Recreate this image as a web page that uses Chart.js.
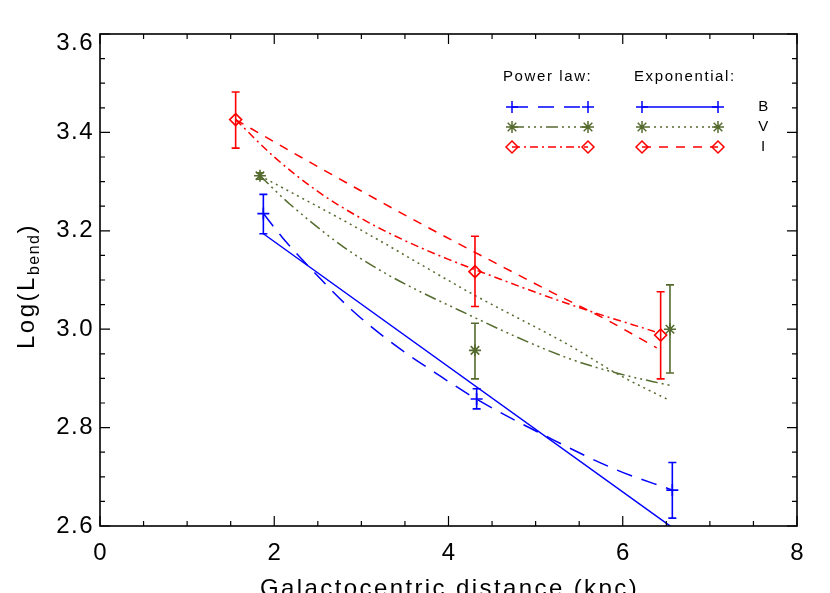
<!DOCTYPE html>
<html>
<head>
<meta charset="utf-8">
<script src="https://cdn.jsdelivr.net/npm/chart.js@4/dist/chart.umd.min.js"></script>
<style>
  html, body { margin: 0; padding: 0; background: #fff; overflow: hidden; }
  #wrap { width: 830px; height: 593px; }
</style>
</head>
<body>
<div id="wrap"><canvas id="bendChart" width="830" height="593"></canvas></div>
<script>
// Measured points (x = galactocentric distance in kpc, y = log L_bend)
const bandX = { B: [1.875, 4.323, 6.569], V: [1.836, 4.304, 6.542], I: [1.557, 4.304, 6.435] };
const bandY = { B: [3.235, 2.858, 2.673], V: [3.312, 2.957, 3.000], I: [3.426, 3.117, 2.988] };
const errLo = { B: [3.194, 2.838, 2.616], V: [3.305, 2.899, 2.911], I: [3.368, 3.046, 2.899] };
const errHi = { B: [3.274, 2.879, 2.729], V: [3.318, 3.012, 3.090], I: [3.482, 3.189, 3.076] };

// Fitted curves
const bPowX = [1.875, 2.09, 2.43, 2.89, 3.39, 3.92, 4.32, 5.17, 5.93, 6.57];
const bPowY = [3.235, 3.187, 3.121, 3.039, 2.967, 2.903, 2.858, 2.778, 2.714, 2.673];
const bExpX = [1.875, 6.56];
const bExpY = [3.194, 2.598];
const vPowX = [1.836, 2.18, 2.98, 4.32, 5.39, 5.97, 6.54];
const vPowY = [3.312, 3.254, 3.145, 3.022, 2.940, 2.909, 2.886];
const vExpX = [1.836, 2.98, 4.29, 5.39, 5.97, 6.54];
const vExpY = [3.312, 3.203, 3.070, 2.967, 2.906, 2.855];
const iPowX = [1.557, 2.0, 2.5, 3.0, 3.5, 4.0, 4.5, 5.0, 5.6, 6.37];
const iPowY = [3.426, 3.350, 3.280, 3.225, 3.180, 3.142, 3.108, 3.075, 3.038, 2.995];
const iExpX = [1.557, 2.085, 2.927, 3.635, 4.285, 5.165, 5.816, 6.39];
const iExpY = [3.426, 3.372, 3.288, 3.219, 3.158, 3.077, 3.019, 2.962];

const xTicks = [0, 2, 4, 6, 8];
const yTicks = [2.6, 2.8, 3.0, 3.2, 3.4, 3.6];
const bands = ["B", "V", "I"];

const colors = { B: "#0000ff", V: "#556b2f", I: "#ff0000" };
const marks = { B: "cross", V: "star", I: "rectRot" };
const powDash = { B: [16, 10], V: [12, 4, 2, 4, 2, 4, 2, 4], I: [8, 4, 2, 4] };
const expDash = { B: [], V: [2, 4], I: [9, 8] };

const FONT = "'Liberation Sans', Arial, sans-serif";

function zip(xs, ys) {
  return xs.map((x, i) => ({ x: x, y: ys[i] }));
}

const fits = {
  B: { pow: zip(bPowX, bPowY), exp: zip(bExpX, bExpY) },
  V: { pow: zip(vPowX, vPowY), exp: zip(vExpX, vExpY) },
  I: { pow: zip(iPowX, iPowY), exp: zip(iExpX, iExpY) }
};

const datasets = [];
bands.forEach(b => {
  ["pow", "exp"].forEach(kind => {
    datasets.push({
      label: b + " " + kind,
      data: fits[b][kind],
      showLine: true,
      borderColor: colors[b],
      borderWidth: 1.5,
      borderDash: kind === "pow" ? powDash[b] : expDash[b],
      pointRadius: 0,
      cubicInterpolationMode: "monotone",
      fill: false
    });
  });
});
bands.forEach(b => {
  datasets.push({
    label: b,
    data: zip(bandX[b], bandY[b]),
    showLine: false,
    pointStyle: marks[b],
    pointRadius: 6,
    pointBorderWidth: 1.6,
    borderColor: colors[b],
    backgroundColor: "rgba(0,0,0,0)"
  });
});

// small marker drawer for the legend
function drawMark(ctx, style, x, y, r) {
  ctx.beginPath();
  if (style === "cross" || style === "star") {
    ctx.moveTo(x - r, y); ctx.lineTo(x + r, y);
    ctx.moveTo(x, y - r); ctx.lineTo(x, y + r);
  }
  if (style === "star") {
    const d = r * 0.72;
    ctx.moveTo(x - d, y - d); ctx.lineTo(x + d, y + d);
    ctx.moveTo(x - d, y + d); ctx.lineTo(x + d, y - d);
  }
  if (style === "rectRot") {
    ctx.moveTo(x - r, y); ctx.lineTo(x, y - r);
    ctx.lineTo(x + r, y); ctx.lineTo(x, y + r);
    ctx.closePath();
  }
  ctx.stroke();
}

const idlFrame = {
  id: "idlFrame",
  afterDatasetsDraw(chart) {
    const { ctx, scales: { x, y } } = chart;
    ctx.save();
    ctx.lineWidth = 1.6;
    bands.forEach(b => {
      ctx.strokeStyle = colors[b];
      bandX[b].forEach((xv, i) => {
        const px = x.getPixelForValue(xv);
        const top = y.getPixelForValue(errHi[b][i]);
        const bot = y.getPixelForValue(errLo[b][i]);
        ctx.beginPath();
        ctx.moveTo(px, top); ctx.lineTo(px, bot);
        ctx.moveTo(px - 4, top); ctx.lineTo(px + 4, top);
        ctx.moveTo(px - 4, bot); ctx.lineTo(px + 4, bot);
        ctx.stroke();
      });
    });
    ctx.restore();
  },
  afterDraw(chart) {
    const { ctx, chartArea: a, scales: { x, y } } = chart;
    ctx.save();
    ctx.strokeStyle = "#000";
    ctx.lineWidth = 1.6;
    ctx.strokeRect(a.left, a.top, a.right - a.left, a.bottom - a.top);

    // inward ticks on all four sides
    ctx.lineWidth = 1.2;
    ctx.beginPath();
    for (let v = 0; v <= 8.001; v += 0.5) {
      const px = x.getPixelForValue(v);
      const len = Math.abs(v % 2) < 0.01 ? 10 : 5;
      ctx.moveTo(px, a.bottom); ctx.lineTo(px, a.bottom - len);
      ctx.moveTo(px, a.top); ctx.lineTo(px, a.top + len);
    }
    for (let k = 0; k <= 20; k++) {
      const v = 2.6 + k * 0.05;
      const py = y.getPixelForValue(v);
      const len = k % 4 === 0 ? 10 : 5;
      ctx.moveTo(a.left, py); ctx.lineTo(a.left + len, py);
      ctx.moveTo(a.right, py); ctx.lineTo(a.right - len, py);
    }
    ctx.stroke();

    // y tick labels (the top one sits just inside the frame, as in the original)
    ctx.fillStyle = "#000";
    ctx.font = "24px " + FONT;
    ctx.letterSpacing = "1.5px";
    ctx.textAlign = "right";
    ctx.textBaseline = "middle";
    yTicks.forEach(v => {
      const py = Math.max(y.getPixelForValue(v), a.top + 9);
      ctx.fillText(v.toFixed(1), 94, py);
    });

    // axis titles
    ctx.font = "24px " + FONT;
    ctx.textAlign = "center";
    ctx.textBaseline = "alphabetic";
    ctx.letterSpacing = "2.4px";
    ctx.fillText("Galactocentric distance (kpc)", (a.left + a.right) / 2 + 1, 596);

    ctx.save();
    ctx.translate(26, 286);
    ctx.rotate(-Math.PI / 2);
    ctx.textAlign = "left";
    const bigFont = "24px " + FONT;
    const subFont = "16px " + FONT;
    ctx.letterSpacing = "2.5px";
    ctx.font = bigFont;
    const w1 = ctx.measureText("Log(L").width;
    const w3 = ctx.measureText(")").width;
    ctx.font = subFont;
    ctx.letterSpacing = "1.5px";
    const w2 = ctx.measureText("bend").width;
    let sx = -(w1 + w2 + w3) / 2;
    ctx.letterSpacing = "2.5px";
    ctx.font = bigFont;
    ctx.fillText("Log(L", sx, 8);
    ctx.font = subFont;
    ctx.letterSpacing = "1.5px";
    ctx.fillText("bend", sx + w1, 13);
    ctx.font = bigFont;
    ctx.letterSpacing = "2.5px";
    ctx.fillText(")", sx + w1 + w2, 8);
    ctx.restore();

    // legend
    ctx.font = "15px " + FONT;
    ctx.letterSpacing = "1.6px";
    ctx.textAlign = "left";
    ctx.textBaseline = "middle";
    ctx.fillText("Power law:", 503, 77);
    ctx.fillText("Exponential:", 634, 77);
    const rows = { B: 107, V: 127, I: 147 };
    bands.forEach(b => {
      const ry = rows[b];
      ctx.fillStyle = "#000";
      ctx.textAlign = "center";
      ctx.fillText(b, 764, ry);
      ctx.strokeStyle = colors[b];
      ctx.lineWidth = 1.5;
      [[512, 588, powDash[b]], [642, 718, expDash[b]]].forEach(([x0, x1, dash]) => {
        ctx.setLineDash(dash);
        ctx.beginPath();
        ctx.moveTo(x0, ry); ctx.lineTo(x1, ry);
        ctx.stroke();
        ctx.setLineDash([]);
        drawMark(ctx, marks[b], x0, ry, 6);
        drawMark(ctx, marks[b], x1, ry, 6);
      });
    });
    ctx.restore();
  }
};

const ctx = document.getElementById("bendChart").getContext("2d");
const bendChart = new Chart(ctx, {
  type: "scatter",
  data: { datasets: datasets },
  options: {
    responsive: false,
    animation: false,
    layout: { padding: { left: 0, top: 34, right: 33, bottom: 0 } },
    plugins: { legend: { display: false }, tooltip: { enabled: false } },
    scales: {
      x: {
        type: "linear",
        min: 0,
        max: 8,
        afterFit: s => { s.height = 67; },
        afterBuildTicks: s => { s.ticks = xTicks.map(v => ({ value: v })); },
        grid: { display: false, drawTicks: false },
        border: { display: false },
        ticks: {
          padding: 13,
          color: "#000",
          font: { family: FONT, size: 24 },
          callback: v => String(v)
        }
      },
      y: {
        type: "linear",
        min: 2.6,
        max: 3.6,
        afterFit: s => { s.width = 100; },
        afterBuildTicks: s => { s.ticks = yTicks.map(v => ({ value: v })); },
        grid: { display: false, drawTicks: false },
        border: { display: false },
        ticks: { display: false }
      }
    }
  },
  plugins: [idlFrame]
});
</script>
</body>
</html>
